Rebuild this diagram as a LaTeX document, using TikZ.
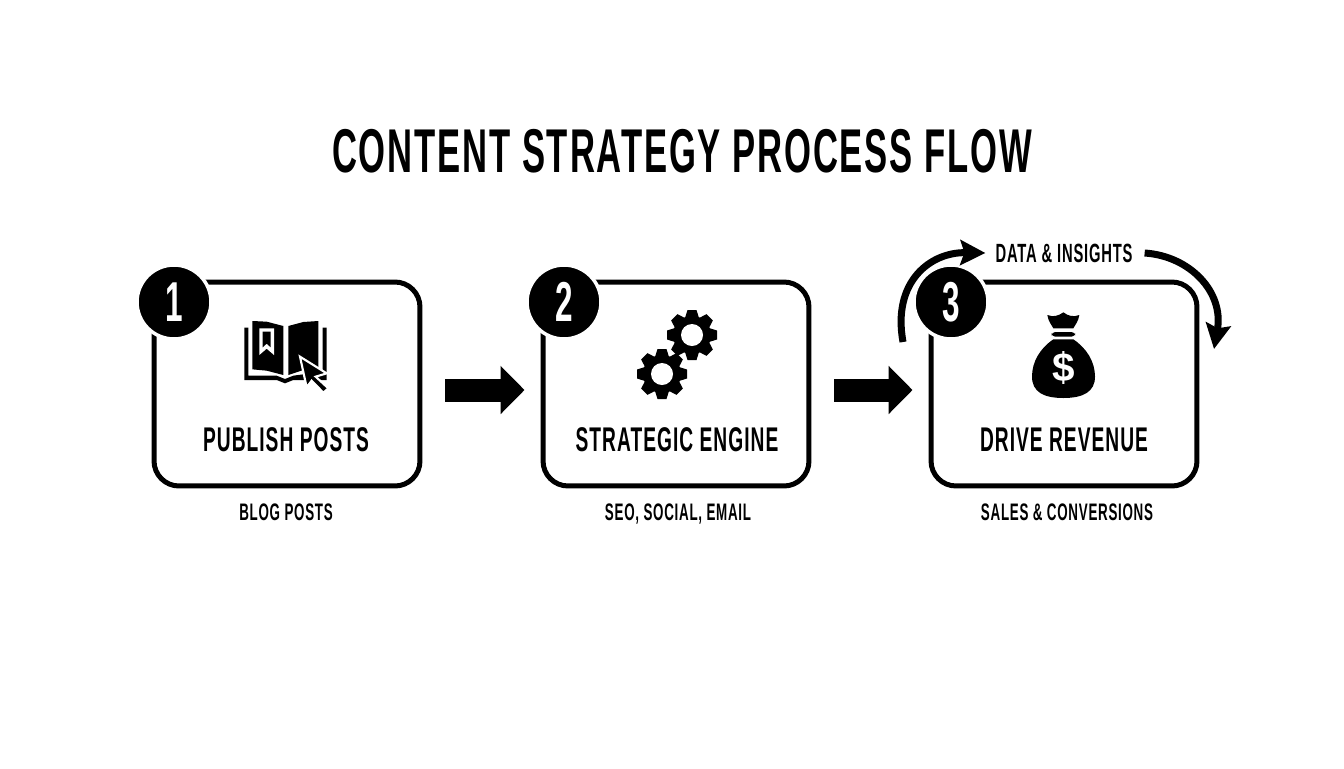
\documentclass[tikz,border=0pt]{standalone}
\usepackage{fontspec}
\setmainfont[FakeStretch=0.56,LetterSpace=3]{Liberation Sans}
\usetikzlibrary{arrows.meta}
\newfontfamily\dollarfont{Liberation Sans Bold}
\newcommand{\gearicon}[2]{%
  \fill[black] (#1,#2) circle (19);
  \foreach \ang in {0,45,...,315} {
    \fill[black,shift={(#1,#2)},rotate=\ang] (17,-7) -- (25,-4.5) -- (25,4.5) -- (17,7) -- cycle;
  }
  \fill[white] (#1,#2) circle (11);
}
\begin{document}
\begin{tikzpicture}[
    x=0.02cm,
    y=-0.02cm,
    stepbox/.style={
        rectangle,
        rounded corners=0.5cm,
        minimum width=5.32cm,
        minimum height=4.08cm,
        draw=black,
        line width=0.1cm
    },
    badge/.style={
        circle,
        minimum size=1.48cm,
        inner sep=0pt,
        fill=black,
        draw=white,
        line width=0.07cm,
        text=white,
        font=\fontsize{32}{34}\selectfont\bfseries
    },
    heading/.style={font=\fontsize{35.2}{38}\selectfont\bfseries},
    stepname/.style={font=\fontsize{19.5}{24}\selectfont\bfseries},
    stepnote/.style={anchor=base,font=\fontsize{13.6}{18}\selectfont\bfseries},
    looptext/.style={font=\fontsize{15}{18}\selectfont\bfseries},
    flow/.style={
        -{Triangle[length=0.48cm,width=0.94cm]},
        line width=0.46cm,
        black
    },
    loopline/.style={
        -{Stealth[length=0.5cm,width=0.5cm,inset=0.08cm]},
        line width=0.14cm,
        black
    }
]

\useasboundingbox (0,0) rectangle (1344,768);

\node[heading] (title) at (682,151) {CONTENT STRATEGY PROCESS FLOW};

\node[stepbox] (box1) at (287,384) {};
\node[stepbox] (box2) at (676,384) {};
\node[stepbox] (box3) at (1064,384) {};

\node[badge] (badge1) at (174,302) {1};
\node[badge] (badge2) at (564,302) {2};
\node[badge] (badge3) at (951,302) {3};

\node[stepname] (name1) at (286,440) {PUBLISH POSTS};
\node[stepname] (name2) at (677,440) {STRATEGIC ENGINE};
\node[stepname] (name3) at (1064,440) {DRIVE REVENUE};

\node[stepnote] (note1) at (286,520) {BLOG POSTS};
\node[stepnote] (note2) at (678,520) {SEO, SOCIAL, EMAIL};
\node[stepnote] (note3) at (1067,520) {SALES \& CONVERSIONS};

\draw[flow,shorten <=0.46cm,shorten >=0.32cm] ([yshift=-0.12cm]box1.east) -- ([yshift=-0.12cm]box2.west);
\draw[flow,shorten <=0.46cm,shorten >=0.32cm] ([yshift=-0.12cm]box2.east) -- ([yshift=-0.12cm]box3.west);

\node[looptext] (data) at (1064,253) {DATA \& INSIGHTS};
\coordinate (loopin) at (903,342);
\coordinate (loopout) at (1214,349);
\draw[loopline] (loopin) .. controls (892,282) and (930,252) .. ([xshift=-0.08cm]data.west);
\draw[loopline] ([xshift=0.12cm]data.east) .. controls (1190,256) and (1224,292) .. (loopout);

\begin{scope}[shift={(130,260)},scale=1/3]
\fill[black] (343,203) -- (355,203) -- (355,347) -- (440,347) -- (465,357) -- (490,347)
    -- (578,335) -- (578,203) -- (590,203) -- (590,360) -- (490,360) -- (465,370) -- (440,360) -- (343,360) -- cycle;
\fill[black] (367,183) -- (410,185) -- (460,198) -- (460,345) -- (410,332) -- (367,328) -- cycle;
\fill[black] (475,198) -- (520,186) -- (565,183) -- (565,325) -- (520,330) -- (475,345) -- cycle;
\fill[white] (388,205) -- (432,205) -- (432,285) -- (410,266) -- (388,285) -- cycle;
\fill[black] (398,215) -- (422,215) -- (422,262) -- (410,251) -- (398,262) -- cycle;
\filldraw[black,draw=white,line width=1.2pt] (510,290) -- (590,340) -- (557,350) -- (595,385) -- (580,398) -- (545,362) -- (530,382) -- cycle;
\end{scope}

\gearicon{692}{335}
\gearicon{662}{374}

\begin{scope}[shift={(880,230)},scale=1/3]
\fill[black] (502,255) .. controls (520,262) and (535,258) .. (550,247)
    .. controls (565,258) and (580,262) .. (598,255)
    .. controls (595,275) and (585,285) .. (580,295) -- (520,295)
    .. controls (515,285) and (505,275) .. (502,255) -- cycle;
\fill[black,rounded corners=2pt] (515,306) rectangle (585,320);
\fill[black] (520,328) -- (580,328) .. controls (620,355) and (645,395) .. (645,440)
    .. controls (645,485) and (610,504) .. (550,504)
    .. controls (490,504) and (456,485) .. (456,440)
    .. controls (456,395) and (480,355) .. (520,328) -- cycle;
\node[text=white,font=\dollarfont\fontsize{23}{26}\selectfont] (dollar) at (550,415) {\$};
\end{scope}

\end{tikzpicture}
\end{document}
